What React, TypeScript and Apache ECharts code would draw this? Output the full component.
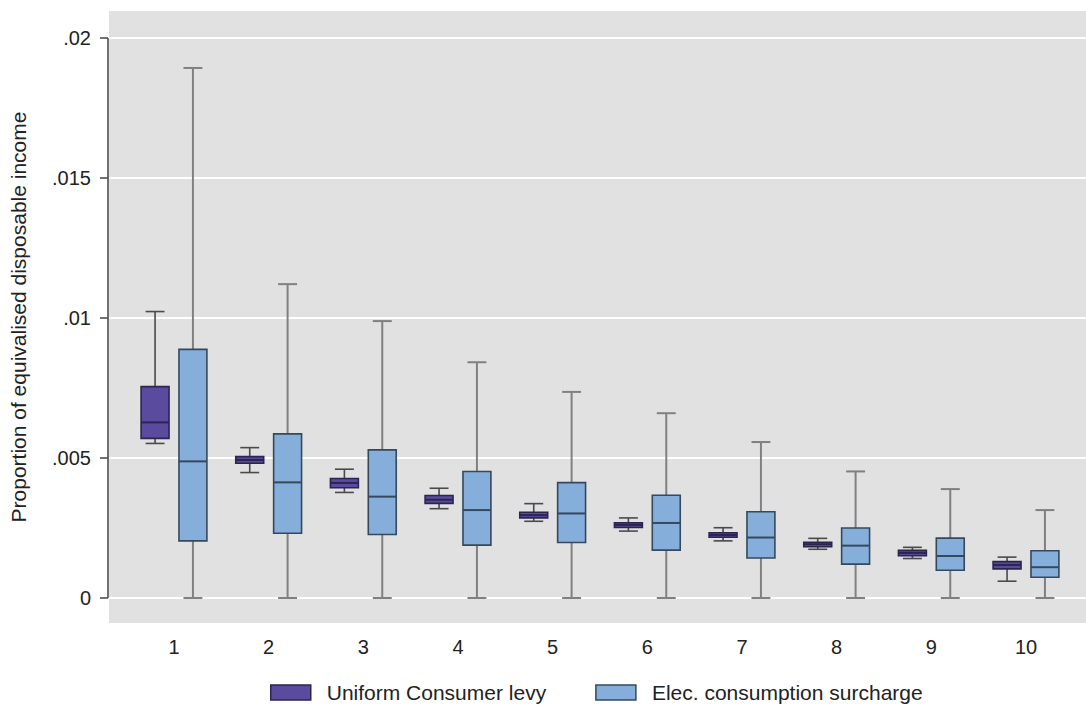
import React, { useEffect, useRef } from "react";
import * as echarts from "echarts";

// Income deciles
const categories = [1, 2, 3, 4, 5, 6, 7, 8, 9, 10];

// [lower whisker, Q1, median, Q3, upper whisker]
const uniformLevy: number[][] = [
  [0.00552, 0.0057, 0.00627, 0.00755, 0.01023],
  [0.00448, 0.00481, 0.00493, 0.00505, 0.00537],
  [0.00377, 0.00394, 0.00411, 0.00427, 0.0046],
  [0.00319, 0.00338, 0.00351, 0.00366, 0.00392],
  [0.00274, 0.00286, 0.00296, 0.00306, 0.00337],
  [0.00239, 0.00252, 0.00261, 0.00269, 0.00286],
  [0.00204, 0.00217, 0.00225, 0.00233, 0.00251],
  [0.00174, 0.00183, 0.00192, 0.00199, 0.00213],
  [0.00141, 0.00151, 0.00161, 0.0017, 0.00181],
  [0.0006, 0.00104, 0.00118, 0.0013, 0.00146],
];

const elecSurcharge: number[][] = [
  [0, 0.00204, 0.00488, 0.00888, 0.01893],
  [0, 0.00231, 0.00413, 0.00586, 0.01121],
  [0, 0.00227, 0.00362, 0.00529, 0.00989],
  [0, 0.00189, 0.00314, 0.00452, 0.00842],
  [0, 0.00198, 0.00302, 0.00412, 0.00736],
  [0, 0.00171, 0.00268, 0.00367, 0.0066],
  [0, 0.00143, 0.00216, 0.00308, 0.00557],
  [0, 0.00121, 0.00187, 0.0025, 0.00452],
  [0, 0.00099, 0.0015, 0.00214, 0.00389],
  [0, 0.00074, 0.0011, 0.00169, 0.00314],
];

const yTicks = [0, 0.005, 0.01, 0.015, 0.02];
const seriesNames = ["Uniform Consumer levy", "Elec. consumption surcharge"];

const FONT = "'Liberation Sans', Arial, sans-serif";

const PURPLE = "#5b4b9f";
const PURPLE_BORDER = "#2b2550";
const BLUE = "#86aedb";
const BLUE_BORDER = "#34495c";

function makeRender(side: number, fill: string, border: string, whisker: string, whiskerW: number) {
  return (params: any, api: any) => {
    const x = api.value(0);
    const pLo = api.coord([x, api.value(1)]);
    const pQ1 = api.coord([x, api.value(2)]);
    const pMed = api.coord([x, api.value(3)]);
    const pQ3 = api.coord([x, api.value(4)]);
    const pHi = api.coord([x, api.value(5)]);
    const band = api.size([1, 0])[0];
    const cx = pLo[0] + side * band * 0.2;
    const bw = band * 0.295;
    const cw = band * 0.2;
    const lineStyle = { stroke: whisker, lineWidth: whiskerW };
    return {
      type: "group",
      children: [
        { type: "line", shape: { x1: cx, y1: pQ3[1], x2: cx, y2: pHi[1] }, style: lineStyle },
        { type: "line", shape: { x1: cx, y1: pQ1[1], x2: cx, y2: pLo[1] }, style: lineStyle },
        { type: "line", shape: { x1: cx - cw / 2, y1: pHi[1], x2: cx + cw / 2, y2: pHi[1] }, style: lineStyle },
        { type: "line", shape: { x1: cx - cw / 2, y1: pLo[1], x2: cx + cw / 2, y2: pLo[1] }, style: lineStyle },
        {
          type: "rect",
          shape: { x: cx - bw / 2, y: pQ3[1], width: bw, height: Math.max(pQ1[1] - pQ3[1], 1) },
          style: { fill, stroke: border, lineWidth: 1.6 },
        },
        {
          type: "line",
          shape: { x1: cx - bw / 2, y1: pMed[1], x2: cx + bw / 2, y2: pMed[1] },
          style: { stroke: border, lineWidth: 2 },
        },
      ],
    };
  };
}

export default function App() {
  const ref = useRef<HTMLDivElement>(null);

  useEffect(() => {
    document.body.style.margin = "0";
    if (!ref.current) return;
    const chart = echarts.init(ref.current, undefined, { renderer: "svg" });

    const levyData = categories.map((c, i) => [c, ...uniformLevy[i]]);
    const elecData = categories.map((c, i) => [c, ...elecSurcharge[i]]);

    const xMin = 0.3134;
    const xMax = 10.6338;
    const yMin = -0.00089286;
    const yMax = 0.02096429;

    chart.setOption({
      animation: false,
      textStyle: { fontFamily: FONT },
      grid: {
        left: 109,
        right: 0,
        top: 11,
        bottom: 86,
        containLabel: false,
        outerBoundsMode: "none",
        show: true,
        backgroundColor: "#e1e1e1",
        borderWidth: 0,
      },
      legend: {
        left: 265,
        top: 677,
        icon: "rect",
        itemWidth: 40,
        itemHeight: 15,
        itemGap: 49,
        textStyle: { fontSize: 21, color: "#222", fontFamily: FONT, padding: [0, 0, 0, 11] },
        data: [
          { name: seriesNames[0], itemStyle: { color: PURPLE, borderColor: PURPLE_BORDER, borderWidth: 1.5 } },
          { name: seriesNames[1], itemStyle: { color: BLUE, borderColor: BLUE_BORDER, borderWidth: 1.5 } },
        ],
      },
      xAxis: {
        type: "value",
        min: xMin,
        max: xMax,
        axisLine: { show: false },
        axisTick: { show: false },
        splitLine: { show: false },
        axisLabel: {
          customValues: categories,
          fontSize: 20,
          color: "#222",
          margin: 14,
          fontFamily: FONT,
        },
      },
      yAxis: {
        type: "value",
        min: yMin,
        max: yMax,
        offset: 1,
        name: "Proportion of equivalised disposable income",
        nameLocation: "middle",
        nameRotate: 90,
        nameGap: 79,
        nameTextStyle: { fontSize: 21, color: "#222", fontFamily: FONT },
        axisLine: { show: false },
        axisTick: {
          show: true,
          customValues: yTicks,
          length: 8,
          lineStyle: { color: "#444", width: 1.5 },
        },
        axisLabel: {
          customValues: yTicks,
          fontSize: 20,
          color: "#222",
          margin: 17,
          fontFamily: FONT,
          formatter: (v: number) => (v === 0 ? "0" : String(+v.toFixed(4)).replace(/^0/, "")),
        },
        splitLine: { show: true, lineStyle: { color: "#ffffff", width: 2 } },
      },
      series: [
        {
          name: seriesNames[0],
          type: "custom",
          itemStyle: { color: PURPLE },
          encode: { x: 0, y: [1, 2, 3, 4, 5] },
          renderItem: makeRender(-1, PURPLE, PURPLE_BORDER, "#4a4a4a", 1.6),
          data: levyData,
        },
        {
          name: seriesNames[1],
          type: "custom",
          itemStyle: { color: BLUE },
          encode: { x: 0, y: [1, 2, 3, 4, 5] },
          renderItem: makeRender(1, BLUE, BLUE_BORDER, "#808080", 2),
          data: elecData,
        },
      ],
    });

    const y0 = chart.convertToPixel({ yAxisIndex: 0 }, yTicks[0]) as number;
    const y1 = chart.convertToPixel({ yAxisIndex: 0 }, yTicks[yTicks.length - 1]) as number;
    chart.setOption({
      graphic: [
        {
          type: "line",
          shape: { x1: 108, y1: y0, x2: 108, y2: y1 },
          style: { stroke: "#444", lineWidth: 1.5 },
        },
      ],
    });

    return () => chart.dispose();
  }, []);

  return <div ref={ref} style={{ width: 1086, height: 709 }} />;
}
